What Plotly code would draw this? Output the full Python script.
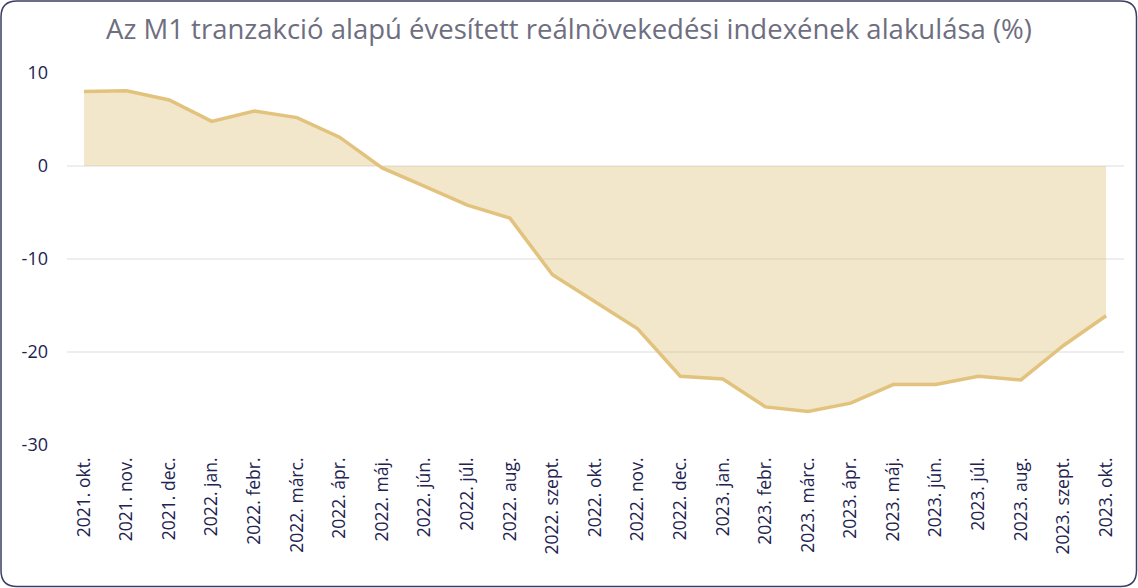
import plotly.graph_objects as go

categories = ["2021. okt.", "2021. nov.", "2021. dec.", "2022. jan.", "2022. febr.", "2022. márc.",
              "2022. ápr.", "2022. máj.", "2022. jún.", "2022. júl.", "2022. aug.", "2022. szept.",
              "2022. okt.", "2022. nov.", "2022. dec.", "2023. jan.", "2023. febr.", "2023. márc.",
              "2023. ápr.", "2023. máj.", "2023. jún.", "2023. júl.", "2023. aug.", "2023. szept.",
              "2023. okt."]
values = [8.0, 8.1, 7.1, 4.8, 5.9, 5.2, 3.1, -0.2, -2.2, -4.2, -5.6, -11.7,
          -14.6, -17.5, -22.6, -22.9, -25.9, -26.4, -25.5, -23.5, -23.5, -22.6, -23.0, -19.3, -16.1]
y_ticks = [10, 0, -10, -20, -30]
y_tick_labels = ["10", "0", "-10", "-20", "-30"]

W, H = 1138, 588
ML, MR, MT, MB = 67, 14, 73, 143
PW, PH = W - ML - MR, H - MT - MB

fig = go.Figure()
fig.add_trace(go.Scatter(
    x=categories, y=values, mode="lines", fill="tozeroy",
    line=dict(color="#E2C37E", width=3.5),
    fillcolor="rgba(222,188,118,0.38)",
    hoverinfo="x+y", showlegend=False,
))

# rounded border in paper coords
def px2x(px):
    return (px - ML) / PW
def py2y(py):
    return 1 - (py - MT) / PH
x0, x1, y0, y1, r = 1, W - 1.5, 1, H - 1.5, 16
path = (f"M {px2x(x0 + r)},{py2y(y0)} L {px2x(x1 - r)},{py2y(y0)} "
        f"Q {px2x(x1)},{py2y(y0)} {px2x(x1)},{py2y(y0 + r)} "
        f"L {px2x(x1)},{py2y(y1 - r)} Q {px2x(x1)},{py2y(y1)} {px2x(x1 - r)},{py2y(y1)} "
        f"L {px2x(x0 + r)},{py2y(y1)} Q {px2x(x0)},{py2y(y1)} {px2x(x0)},{py2y(y1 - r)} "
        f"L {px2x(x0)},{py2y(y0 + r)} Q {px2x(x0)},{py2y(y0)} {px2x(x0 + r)},{py2y(y0)} Z")
fig.add_shape(type="path", path=path, xref="paper", yref="paper",
              line=dict(color="#3D3D66", width=1.5), layer="above")

fig.update_layout(
    width=W, height=H,
    margin=dict(l=ML, r=MR, t=MT, b=MB, autoexpand=False),
    paper_bgcolor="white", plot_bgcolor="white",
    title=dict(text="Az M1 tranzakció alapú évesített reálnövekedési indexének alakulása (%)",
               x=0.5, xanchor="center", y=1 - 29 / H, yanchor="middle",
               font=dict(family="Open Sans", size=27.5, color="#6E6E80")),
    font=dict(family="Open Sans", color="#222250"),
    xaxis=dict(type="category", range=[-0.4, 24.42], tickangle=-90,
               showgrid=False, zeroline=False, showline=False, ticks="",
               tickfont=dict(size=17.5, color="#222250"), ticklabelstandoff=8),
    yaxis=dict(range=[-30, 10], tickvals=y_ticks, ticktext=y_tick_labels,
               showgrid=True, gridcolor="#EEEEEE",
               gridwidth=1.5, zeroline=False, showline=False, ticks="",
               tickfont=dict(size=18, color="#222250"), ticklabelstandoff=18),
)

fig.write_html("out.html", config={"displayModeBar": False},
               post_script="document.body.style.margin='0';document.body.style.padding='0';")
